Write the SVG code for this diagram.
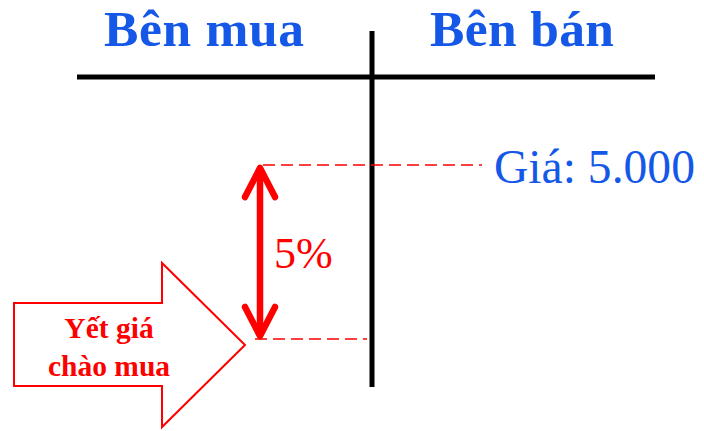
<svg xmlns="http://www.w3.org/2000/svg" width="704" height="431" viewBox="0 0 704 431">
<style>
.title{font-family:"Liberation Serif",serif;font-weight:bold;font-size:51.5px;fill:#1558E8}
.price{font-family:"Liberation Serif",serif;font-size:47.6px;fill:#1558E8}
.pct{font-family:"Liberation Serif",serif;font-size:44px;fill:#FF0000}
.lbl{font-family:"Liberation Serif",serif;font-weight:bold;font-size:29.5px;fill:#FF0000}
.axis{stroke:#000;stroke-width:5;fill:none}
.dash{stroke:#FF0000;stroke-width:1.6;stroke-dasharray:12 6;fill:none}
.dbl{stroke:#FF0000;stroke-width:6.5;fill:none;stroke-linecap:round;stroke-linejoin:round}
</style>
<rect width="704" height="431" fill="#fff"/>
<g id="axes">
<line class="axis" x1="77" y1="77" x2="655" y2="77"/>
<line class="axis" x1="372" y1="31" x2="372" y2="387"/>
</g>
<g id="buyer"><text class="title" x="104" y="46" textLength="200">Bên mua</text></g>
<g id="seller"><text class="title" x="430" y="46" textLength="184">Bên bán</text></g>
<g id="connectors">
<line class="dash" x1="263" y1="165" x2="482" y2="165"/>
<line class="dash" x1="255" y1="339" x2="367" y2="339"/>
<line class="dbl" x1="260" y1="170" x2="260" y2="334"/>
<polyline class="dbl" points="245,197 260,168 275,197"/>
<polyline class="dbl" points="245,307 260,336 275,307"/>
</g>
<g id="price"><text class="price" x="494" y="183">Giá: 5.000</text></g>
<g id="percent"><text class="pct" x="274" y="268">5%</text></g>
<g id="bid">
<polygon points="14,303 162,303 162,263 245,345 162,427 162,386 14,386" fill="#fff" stroke="#FF0000" stroke-width="2"/>
<text class="lbl" x="109" y="338" text-anchor="middle">Yết giá</text>
<text class="lbl" x="109" y="376" text-anchor="middle">chào mua</text>
</g>
</svg>
